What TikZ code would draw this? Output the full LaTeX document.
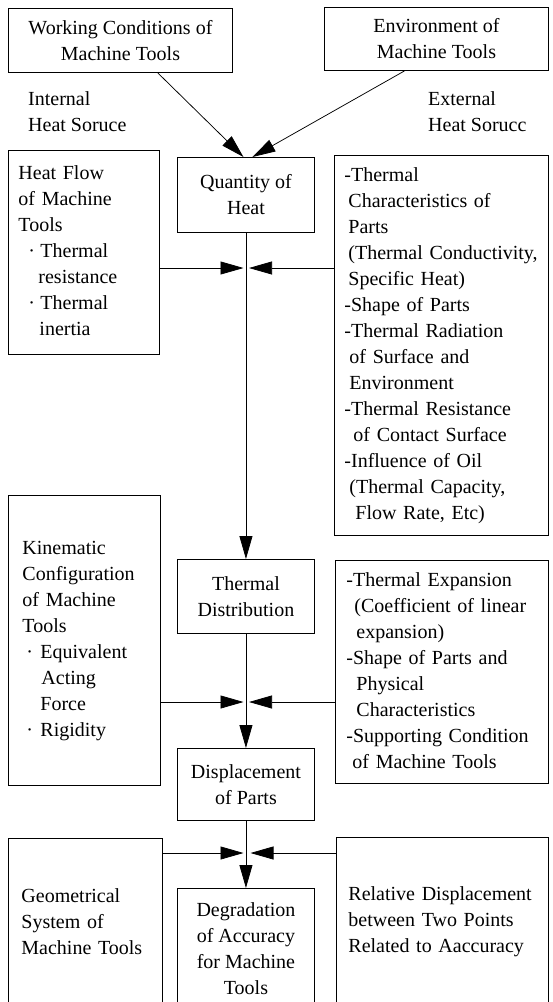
\documentclass[tikz,border=0pt]{standalone}
\usepackage{fontspec}
\setmainfont{Liberation Serif}
\usetikzlibrary{arrows.meta}
\newcommand\myfs{\fontsize{20}{26}\selectfont}
\tikzset{
  box/.style={draw, line width=0.9pt, inner sep=0pt, anchor=north west, font=\myfs},
  cbox/.style={box, align=center},
  lbox/.style={box},
  plain/.style={inner sep=0pt, font=\myfs, align=left, anchor=west},
  ln/.style={line width=0.75pt},
  arr/.style={line width=0.75pt, -{Triangle[length=23pt,width=13pt]}},
}
\begin{document}
\begin{tikzpicture}[x=1pt,y=-1pt]
\useasboundingbox (0,0) rectangle (552,1002);
% top boxes
\node[cbox, minimum width=224pt, minimum height=64pt] (work) at (8,8) {Working Conditions of\\Machine Tools};
\node[cbox, minimum width=224pt, minimum height=63pt] (env) at (324,7) {Environment of\\Machine Tools};
\node[plain] (int) at (28,112) {Internal\\Heat Soruce};
\node[plain] (ext) at (428,112) {External\\Heat Sorucc};
% centre column
\node[cbox, minimum width=137pt, minimum height=75pt] (qty) at (177,157) {Quantity of\\Heat};
\node[cbox, minimum width=137pt, minimum height=74pt] (td) at (177,559) {Thermal\\Distribution};
\node[cbox, minimum width=137pt, minimum height=72pt] (disp) at (177,748) {Displacement\\of Parts};
\node[cbox, minimum width=137pt, minimum height=120pt] (deg) at (177,888) {Degradation\\of Accuracy\\for Machine\\Tools};
% left column
\node[lbox, minimum width=151pt, minimum height=204pt, text width=131pt, inner xsep=10pt] (hf) at (8,150)
 {\begin{tabular}{@{}l@{}}Heat Flow\\of Machine\\Tools\\
 \hspace*{10pt}\makebox[12pt][l]{·}Thermal\\
 \hspace*{20pt}resistance\\
 \hspace*{10pt}\makebox[12pt][l]{·}Thermal\\
 \hspace*{21pt}inertia\end{tabular}};
\node[lbox, minimum width=152pt, minimum height=290pt, text width=124pt, inner xsep=14pt] (kin) at (8,495)
 {\begin{tabular}{@{}l@{}}Kinematic\\Configuration\\of Machine\\Tools\\
 \hspace*{4pt}\makebox[14pt][l]{·}Equivalent\\
 \hspace*{19pt}Acting\\
 \hspace*{18pt}Force\\
 \hspace*{4pt}\makebox[14pt][l]{·}Rigidity\end{tabular}};
\node[lbox, minimum width=154pt, minimum height=170pt, text width=128pt, inner xsep=13pt] (geo) at (8,838)
 {\begin{tabular}{@{}l@{}}Geometrical\\System of\\Machine Tools\end{tabular}};
% right column
\node[lbox, minimum width=214pt, minimum height=380pt, text width=194pt, inner xsep=10pt] (rb1) at (334,155)
 {\begin{tabular}{@{}l@{}}-Thermal\\
 \hspace*{4pt}Characteristics of\\
 \hspace*{4pt}Parts\\
 \hspace*{4pt}(Thermal Conductivity,\\
 \hspace*{4pt}Specific Heat)\\
 -Shape of Parts\\
 -Thermal Radiation\\
 \hspace*{5pt}of Surface and\\
 \hspace*{5pt}Environment\\
 -Thermal Resistance\\
 \hspace*{9pt}of Contact Surface\\
 -Influence of Oil\\
 \hspace*{5pt}(Thermal Capacity,\\
 \hspace*{11pt}Flow Rate, Etc)\end{tabular}};
\node[lbox, minimum width=213pt, minimum height=223pt, text width=191pt, inner xsep=11pt] (rb2) at (335,560)
 {\begin{tabular}{@{}l@{}}-Thermal Expansion\\
 \hspace*{8pt}(Coefficient of linear\\
 \hspace*{10pt}expansion)\\
 -Shape of Parts and\\
 \hspace*{10pt}Physical\\
 \hspace*{10pt}Characteristics\\
 -Supporting Condition\\
 \hspace*{6pt}of Machine Tools\end{tabular}};
\node[lbox, minimum width=212pt, minimum height=168pt, text width=188pt, inner xsep=12pt] (rel) at (336,837)
 {\begin{tabular}{@{}l@{}}Relative Displacement\\between Two Points\\Related to Aaccuracy\end{tabular}};
% junction points
\coordinate (c1) at (245.5,268);
\coordinate (c2) at (245.5,702);
\coordinate (c3) at (245.5,853);
% connectors
\draw[arr] (work.-41) -- ([xshift=-2.5pt]qty.north);
\draw[arr] (env.-135) -- ([xshift=6.5pt]qty.north);
\draw[arr] (qty.south) -- (td.north);
\draw[arr] (td.south) -- (disp.north);
\draw[arr] (disp.south) -- (deg.north);
\draw[arr] (hf.east |- c1) -- ([xshift=-2pt]c1);
\draw[arr] (rb1.west |- c1) -- ([xshift=3.5pt]c1);
\draw[arr] (kin.east |- c2) -- ([xshift=-2pt]c2);
\draw[arr] (rb2.west |- c2) -- ([xshift=3.5pt]c2);
\draw[arr] (geo.east |- c3) -- ([xshift=-2pt]c3);
\draw[arr] (rel.west |- c3) -- ([xshift=5pt]c3);
\end{tikzpicture}
\end{document}
